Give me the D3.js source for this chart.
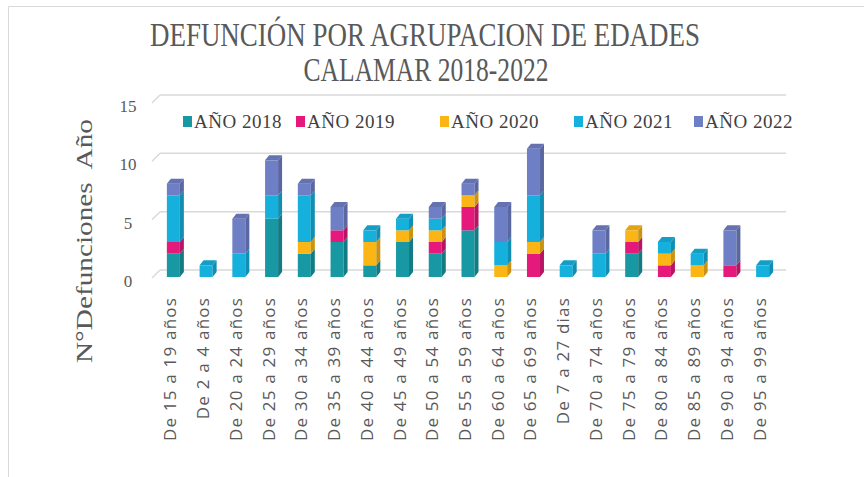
<!DOCTYPE html>
<html>
<head>
<meta charset="utf-8">
<script src="https://cdn.jsdelivr.net/npm/d3@7"></script>
<style>
  html, body { margin: 0; padding: 0; background: #fff; }
  svg { display: block; font-family: "Open Sans", sans-serif; }
  .serif { font-family: "Liberation Serif", "DejaVu Serif", serif; }
</style>
</head>
<body>
<svg id="chart" width="864" height="477"></svg>
<script>
var categories = ['De 15 a 19 años', 'De 2 a 4 años', 'De 20 a 24 años', 'De 25 a 29 años',
  'De 30 a 34 años', 'De 35 a 39 años', 'De 40 a 44 años', 'De 45 a 49 años',
  'De 50 a 54 años', 'De 55 a 59 años', 'De 60 a 64 años', 'De 65 a 69 años',
  'De 7 a 27 dias', 'De 70 a 74 años', 'De 75 a 79 años', 'De 80 a 84 años',
  'De 85 a 89 años', 'De 90 a 94 años', 'De 95 a 99 años'];

var seriesNames = ['AÑO 2018', 'AÑO 2019', 'AÑO 2020', 'AÑO 2021', 'AÑO 2022'];

var y2018 = [2, 0, 0, 5, 2, 3, 1, 3, 2, 4, 0, 0, 0, 0, 2, 0, 0, 0, 0];
var y2019 = [1, 0, 0, 0, 0, 1, 0, 0, 1, 2, 0, 2, 0, 0, 1, 1, 0, 1, 0];
var y2020 = [0, 0, 0, 0, 1, 0, 2, 1, 1, 1, 1, 1, 0, 0, 1, 1, 1, 0, 0];
var y2021 = [4, 1, 2, 2, 4, 0, 1, 1, 1, 0, 2, 4, 1, 2, 0, 1, 1, 0, 1];
var y2022 = [1, 0, 3, 3, 1, 2, 0, 0, 1, 1, 3, 4, 0, 2, 0, 0, 0, 3, 0];

var yTicks = [0, 5, 10, 15];

var colors = {
  'AÑO 2018': '#1798a3',
  'AÑO 2019': '#e5197b',
  'AÑO 2020': '#fbb615',
  'AÑO 2021': '#16b0dc',
  'AÑO 2022': '#6f7fc6'
};

var values = [y2018, y2019, y2020, y2021, y2022];
var rows = categories.map(function (c, i) {
  var r = { cat: c };
  seriesNames.forEach(function (s, k) { r[s] = values[k][i]; });
  return r;
});

var svg = d3.select('#chart');

// frame
svg.append('path')
  .attr('d', 'M8.5,477 L8.5,6.5 L864,6.5')
  .attr('fill', 'none')
  .attr('stroke', '#d9d9d9');

// title
svg.append('text')
  .attr('class', 'serif')
  .attr('x', 425).attr('y', 46)
  .attr('text-anchor', 'middle')
  .attr('font-size', 33)
  .attr('fill', '#595959')
  .attr('textLength', 550)
  .attr('lengthAdjust', 'spacingAndGlyphs')
  .text('DEFUNCIÓN POR AGRUPACION DE EDADES');
svg.append('text')
  .attr('class', 'serif')
  .attr('x', 426).attr('y', 81)
  .attr('text-anchor', 'middle')
  .attr('font-size', 33)
  .attr('fill', '#595959')
  .attr('textLength', 245)
  .attr('lengthAdjust', 'spacingAndGlyphs')
  .text('CALAMAR 2018-2022');

var x = d3.scalePoint().domain(categories).range([157, 779]).padding(0.5);
var y = d3.scaleLinear().domain([0, 15]).range([277, 102]);

var off = 7;       // back wall offset
var barW = 13, dx = 4, dy = 5;

// gridlines on back wall + slanted stubs
var grid = svg.append('g');
yTicks.forEach(function (t) {
  grid.append('line')
    .attr('x1', 160).attr('x2', 786)
    .attr('y1', y(t) - off).attr('y2', y(t) - off)
    .attr('stroke', '#d9d9d9').attr('stroke-width', 1.5);
  grid.append('line')
    .attr('x1', 152).attr('x2', 160)
    .attr('y1', y(t) + 1).attr('y2', y(t) - off)
    .attr('stroke', '#d9d9d9').attr('stroke-width', 1.5);
});

// y tick labels
svg.append('g').selectAll('text')
  .data(yTicks)
  .join('text')
  .attr('class', 'serif')
  .attr('x', 128).attr('y', function (d) { return y(d) + 10; })
  .attr('text-anchor', 'middle')
  .attr('font-size', 17)
  .attr('fill', '#595959')
  .text(function (d) { return d; });

// y axis title
svg.append('text')
  .attr('class', 'serif')
  .attr('transform', 'translate(92,241) rotate(-90)')
  .attr('text-anchor', 'middle')
  .attr('font-size', 24)
  .attr('fill', '#595959')
  .attr('xml:space', 'preserve')
  .attr('textLength', 244)
  .attr('lengthAdjust', 'spacingAndGlyphs')
  .text('N°Defunciones  Año');

// stacked 3D columns
var stack = d3.stack().keys(seriesNames)(rows);

function shade(c, k) { return d3.color(c).darker(k).formatHex(); }

var bars = svg.append('g');
categories.forEach(function (cat, i) {
  var cx = x(cat), x0 = cx - barW / 2, x1 = cx + barW / 2;
  var topSeg = null;
  stack.forEach(function (layer) {
    var d = layer[i];
    if (d[1] - d[0] <= 0) return;
    var col = colors[layer.key];
    var yb = y(d[0]), yt = y(d[1]);
    bars.append('rect')
      .attr('x', x0).attr('y', yt)
      .attr('width', barW).attr('height', yb - yt)
      .attr('fill', col);
    bars.append('path')
      .attr('d', 'M' + x1 + ',' + yb + 'L' + (x1 + dx) + ',' + (yb - dy) +
        'L' + (x1 + dx) + ',' + (yt - dy) + 'L' + x1 + ',' + yt + 'Z')
      .attr('fill', shade(col, 0.6));
    topSeg = { col: col, yt: yt };
  });
  if (topSeg) {
    bars.append('path')
      .attr('d', 'M' + x0 + ',' + topSeg.yt + 'L' + (x0 + dx) + ',' + (topSeg.yt - dy) +
        'L' + (x1 + dx) + ',' + (topSeg.yt - dy) + 'L' + x1 + ',' + topSeg.yt + 'Z')
      .attr('fill', shade(topSeg.col, 0.3));
  }
});

// category labels
svg.append('g').selectAll('text')
  .data(categories)
  .join('text')
  .attr('transform', function (d) { return 'translate(' + (x(d) + 3) + ',297) rotate(-90)'; })
  .attr('text-anchor', 'end')
  .attr('font-size', 17)
  .attr('letter-spacing', 1.2)
  .attr('fill', '#595959')
  .text(function (d) { return d; });

// legend
var legX = [183, 296, 440, 574, 694];
var leg = svg.append('g').selectAll('g')
  .data(seriesNames)
  .join('g')
  .attr('transform', function (d, i) { return 'translate(' + legX[i] + ',122)'; });
leg.append('rect')
  .attr('x', 0).attr('y', -6).attr('width', 9).attr('height', 11)
  .attr('fill', function (d) { return colors[d]; });
leg.append('text')
  .attr('class', 'serif')
  .attr('x', 11).attr('y', 6)
  .attr('font-size', 19)
  .attr('letter-spacing', 0.5)
  .attr('fill', '#404040')
  .text(function (d) { return d; });
</script>
</body>
</html>
